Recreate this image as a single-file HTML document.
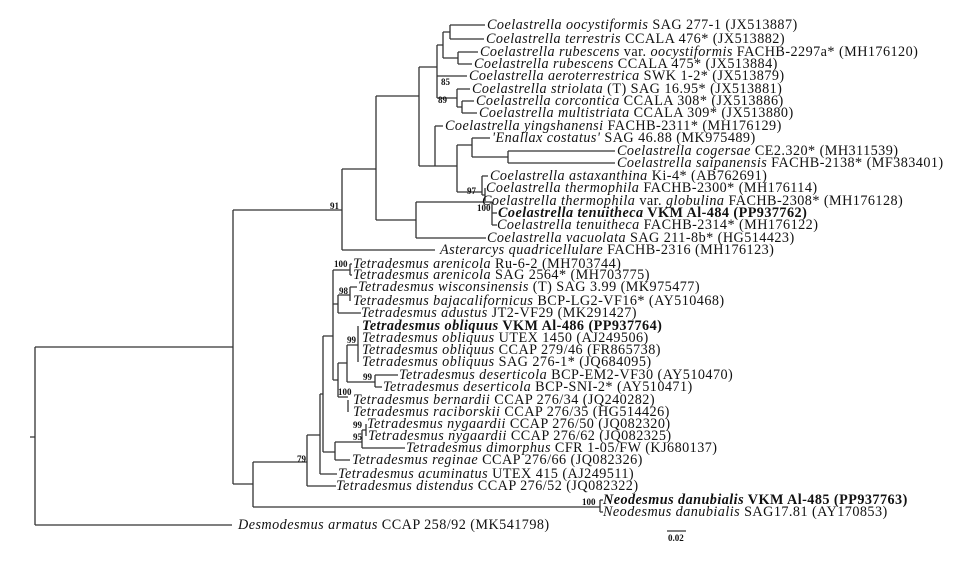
<!DOCTYPE html>
<html><head><meta charset="utf-8"><style>
html,body{margin:0;padding:0;background:#fff;}
svg{display:block;}
text{font-family:"Liberation Serif",serif;font-size:14.2px;letter-spacing:0.45px;fill:#111;}
.b{font-size:9px;font-weight:bold;letter-spacing:0;}
.i{font-style:italic;}
.bd{font-weight:bold;}
</style></head><body>
<svg width="960" height="567" viewBox="0 0 960 567" xmlns="http://www.w3.org/2000/svg">
<rect width="960" height="567" fill="#fff"/>
<g stroke="#333" stroke-width="1.3" fill="none">
<path d="M30 437H35M35 347V525M35 347H233M35 525H232"/>
<path d="M233 210V484M233 210H342M233 484H253"/>
<path d="M342 169V250M342 169H376M342 250H435"/>
<path d="M376 96V220M376 96H419M376 220H416"/>
<path d="M419 67V166M419 67H437M419 166H435"/>
<path d="M437 45V98M437 45H443M437 76H467M437 98H457"/>
<path d="M443 32V58M443 32H450M443 58H458"/>
<path d="M450 25V39M450 25H485M450 39H484"/>
<path d="M458 52V64M458 52H478M458 64H472"/>
<path d="M457 89V107M457 89H470M457 107H462"/>
<path d="M462 101V113M462 101H474M462 113H477"/>
<path d="M435 126V166M435 126H443M435 166H457"/>
<path d="M457 145V192M457 145H472M457 192H482"/>
<path d="M472 138V157M472 138H490M472 157H508"/>
<path d="M508 151V163M508 151H615M508 163H615"/>
<path d="M482 176V195M482 176H488M482 195H485M485 188V201"/>
<path d="M416 202V238M416 202H492M416 238H486"/>
<path d="M492 202V225M492 213H497M492 225H497"/>
<path d="M253 462V507M253 462H307M253 507H600M600 500V512M600 500H603M600 512H603"/>
<path d="M307 435V486M307 435H320M307 486H336"/>
<path d="M320 394V474M320 394H323M320 474H337"/>
<path d="M323 336V452M323 336H333M323 452H335"/>
<path d="M335 442V460M335 442H362M335 460H350"/>
<path d="M362 430V448M362 430H366M362 448H405M366 424V436"/>
<path d="M333 270V380M333 270H350M333 304H338M333 380H338"/>
<path d="M350 264V275M350 264H352M350 275H352"/>
<path d="M338 295V313M338 295H350M338 313H361"/>
<path d="M350 287V301M350 287H357"/>
<path d="M338 363V397M338 363H347M338 397H348"/>
<path d="M347 345V382M347 345H358M347 382H375"/>
<path d="M358 326V362"/>
<path d="M375 375V387M375 375H398M375 387H382"/>
<path d="M348 400V412"/>
<path d="M667 531H686"/>
</g>
<g>
<text x="487" y="29"><tspan class="i">Coelastrella oocystiformis</tspan> SAG 277-1 (JX513887)</text>
<text x="486" y="43"><tspan class="i">Coelastrella terrestris</tspan> CCALA 476* (JX513882)</text>
<text x="480" y="56"><tspan class="i">Coelastrella rubescens</tspan> var. <tspan class="i">oocystiformis</tspan> FACHB-2297a* (MH176120)</text>
<text x="474" y="68"><tspan class="i">Coelastrella rubescens</tspan>  CCALA 475* (JX513884)</text>
<text x="469" y="80"><tspan class="i">Coelastrella aeroterrestrica</tspan> SWK 1-2* (JX513879)</text>
<text x="472" y="93"><tspan class="i">Coelastrella striolata</tspan> (T) SAG 16.95* (JX513881)</text>
<text x="476" y="105"><tspan class="i">Coelastrella corcontica</tspan> CCALA 308* (JX513886)</text>
<text x="479" y="117"><tspan class="i">Coelastrella multistriata</tspan> CCALA 309* (JX513880)</text>
<text x="445" y="130"><tspan class="i">Coelastrella yingshanensi</tspan> FACHB-2311* (MH176129)</text>
<text x="492" y="142"><tspan class="i">'Enallax costatus'</tspan> SAG 46.88 (MK975489)</text>
<text x="617" y="155"><tspan class="i">Coelastrella cogersae</tspan> CE2.320* (MH311539)</text>
<text x="617" y="167"><tspan class="i">Coelastrella saipanensis</tspan> FACHB-2138* (MF383401)</text>
<text x="490" y="180"><tspan class="i">Coelastrella astaxanthina</tspan> Ki-4* (AB762691)</text>
<text x="486" y="192"><tspan class="i">Coelastrella thermophila</tspan> FACHB-2300* (MH176114)</text>
<text x="482" y="205"><tspan class="i">Coelastrella thermophila</tspan> var. <tspan class="i">globulina</tspan> FACHB-2308* (MH176128)</text>
<text x="498" y="217" class="bd"><tspan class="i">Coelastrella tenuitheca</tspan> VKM Al-484 (PP937762)</text>
<text x="497" y="229"><tspan class="i">Coelastrella tenuitheca</tspan> FACHB-2314* (MH176122)</text>
<text x="487" y="242"><tspan class="i">Coelastrella vacuolata</tspan> SAG 211-8b* (HG514423)</text>
<text x="440" y="254"><tspan class="i">Asterarcys quadricellulare</tspan> FACHB-2316 (MH176123)</text>
<text x="353" y="268"><tspan class="i">Tetradesmus arenicola</tspan> Ru-6-2 (MH703744)</text>
<text x="353" y="279"><tspan class="i">Tetradesmus arenicola</tspan> SAG 2564* (MH703775)</text>
<text x="358" y="291"><tspan class="i">Tetradesmus wisconsinensis</tspan> (T) SAG 3.99 (MK975477)</text>
<text x="353" y="305"><tspan class="i">Tetradesmus bajacalifornicus</tspan> BCP-LG2-VF16* (AY510468)</text>
<text x="361" y="317"><tspan class="i">Tetradesmus adustus</tspan> JT2-VF29 (MK291427)</text>
<text x="362" y="330" class="bd"><tspan class="i">Tetradesmus obliquus</tspan> VKM Al-486 (PP937764)</text>
<text x="362" y="342"><tspan class="i">Tetradesmus obliquus</tspan> UTEX 1450 (AJ249506)</text>
<text x="362" y="354"><tspan class="i">Tetradesmus obliquus</tspan> CCAP 279/46 (FR865738)</text>
<text x="362" y="366"><tspan class="i">Tetradesmus obliquus</tspan> SAG 276-1* (JQ684095)</text>
<text x="399" y="379"><tspan class="i">Tetradesmus deserticola</tspan> BCP-EM2-VF30 (AY510470)</text>
<text x="383" y="391"><tspan class="i">Tetradesmus deserticola</tspan> BCP-SNI-2* (AY510471)</text>
<text x="353" y="404"><tspan class="i">Tetradesmus bernardii</tspan> CCAP 276/34 (JQ240282)</text>
<text x="353" y="416"><tspan class="i">Tetradesmus raciborskii</tspan> CCAP 276/35 (HG514426)</text>
<text x="367" y="428"><tspan class="i">Tetradesmus nygaardii</tspan> CCAP 276/50 (JQ082320)</text>
<text x="368" y="440"><tspan class="i">Tetradesmus nygaardii</tspan> CCAP 276/62 (JQ082325)</text>
<text x="406" y="452"><tspan class="i">Tetradesmus dimorphus</tspan> CFR 1-05/FW (KJ680137)</text>
<text x="352" y="464"><tspan class="i">Tetradesmus reginae</tspan> CCAP 276/66 (JQ082326)</text>
<text x="338" y="478"><tspan class="i">Tetradesmus acuminatus</tspan> UTEX 415 (AJ249511)</text>
<text x="336" y="490"><tspan class="i">Tetradesmus distendus</tspan> CCAP 276/52 (JQ082322)</text>
<text x="603" y="504" class="bd"><tspan class="i">Neodesmus danubialis</tspan> VKM Al-485 (PP937763)</text>
<text x="603" y="516"><tspan class="i">Neodesmus danubialis</tspan> SAG17.81 (AY170853)</text>
<text x="238" y="529"><tspan class="i">Desmodesmus armatus</tspan> CCAP 258/92  (MK541798)</text>
</g>
<g>
<text class="b" x="330" y="209">91</text>
<text class="b" x="441" y="85">85</text>
<text class="b" x="438" y="103">89</text>
<text class="b" x="467" y="194">97</text>
<text class="b" x="477" y="211">100</text>
<text class="b" x="334" y="267">100</text>
<text class="b" x="339" y="294">98</text>
<text class="b" x="347" y="343">99</text>
<text class="b" x="363" y="380">99</text>
<text class="b" x="338" y="395">100</text>
<text class="b" x="353" y="428">99</text>
<text class="b" x="353" y="440">95</text>
<text class="b" x="297" y="462">79</text>
<text class="b" x="582" y="505">100</text>
<text class="b" x="668" y="541">0.02</text>
</g>
</svg>
</body></html>
